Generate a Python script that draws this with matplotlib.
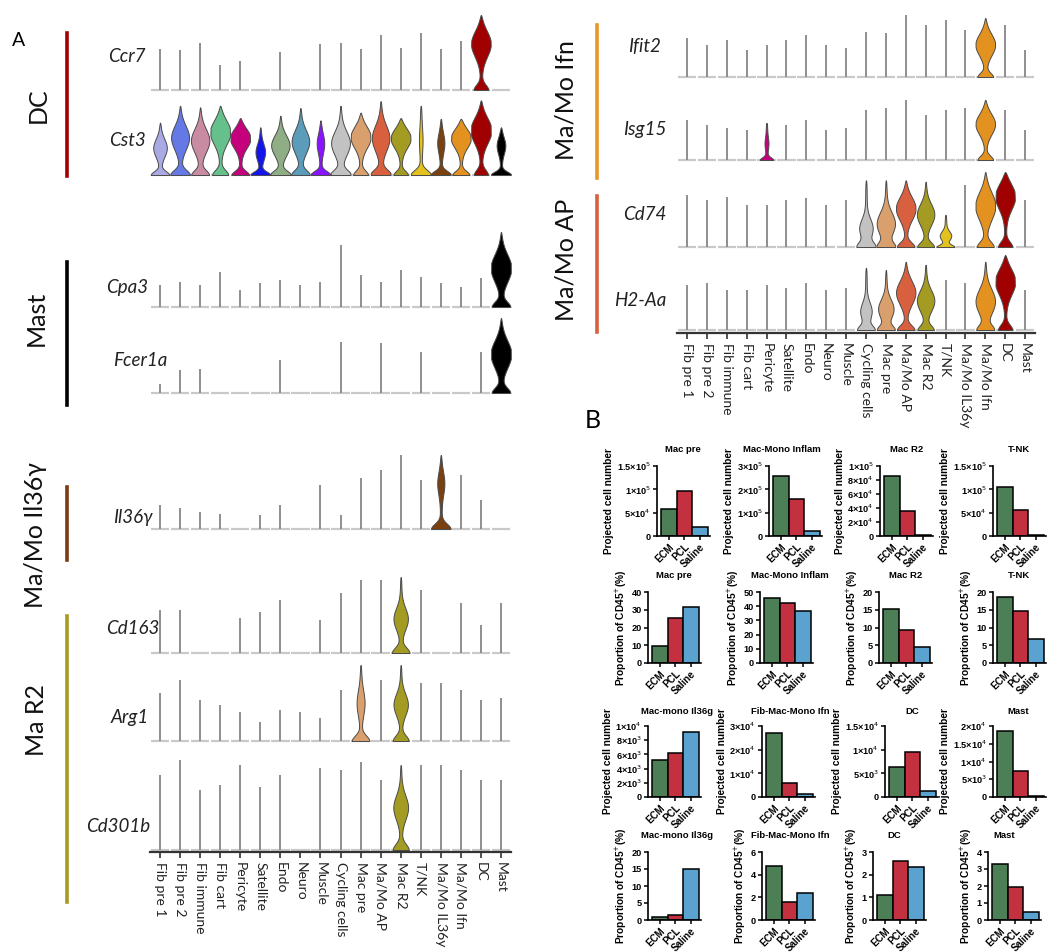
import numpy as np
import matplotlib
matplotlib.use("Agg")
import matplotlib.pyplot as plt

W, H = 1050, 952
fig = plt.figure(figsize=(10.5, 9.52), dpi=100)

AF = ['Lato', 'DejaVu Sans']
BF = ['Liberation Sans', 'DejaVu Sans']

clusters = ["Fib pre 1", "Fib pre 2", "Fib immune", "Fib cart", "Pericyte", "Satellite",
            "Endo", "Neuro", "Muscle", "Cycling cells", "Mac pre", "Ma/Mo AP", "Mac R2",
            "T/NK", "Ma/Mo IL36y", "Ma/Mo Ifn", "DC", "Mast"]
ccolors = ["#a9a9e3", "#6579e6", "#c98ba2", "#66c08c", "#c4007c", "#1414ee", "#8fae86",
           "#5a9cba", "#8a14ff", "#c2c2c2", "#d9a06e", "#d9603f", "#a39b22", "#e3c21f",
           "#7a4010", "#e3921f", "#a00000", "#000000"]

# ---------------- violin data (heights relative to row height) ----------------
ccr7_h = [0.55, 0.53, 0.63, 0.33, 0.39, 0, 0.51, 0, 0.61, 0.63, 0.55, 0.73, 0.56, 0.76, 0.55, 0.65, 1.0, 0]
ccr7_v = {16: (0.46, 0.62, 0.17, 0.33)}

cst3_h = [0.68, 0.90, 0.88, 0.90, 0.74, 0.62, 0.77, 0.87, 0.71, 0.90, 0.81, 0.96, 0.74, 0.90, 0.73, 0.73, 0.97, 0.62]
cst3_bw = [0.30, 0.41, 0.42, 0.48, 0.48, 0.20, 0.42, 0.40, 0.15, 0.43, 0.47, 0.40, 0.47, 0.05, 0.14, 0.47, 0.49, 0.18]
cst3_c = [0.52, 0.54, 0.51, 0.62, 0.65, 0.48, 0.50, 0.50, 0.58, 0.46, 0.61, 0.50, 0.65, 0.50, 0.57, 0.66, 0.60, 0.62]
cst3_base = [0.42, 0.45, 0.40, 0.36, 0.40, 0.46, 0.47, 0.42, 0.46, 0.47, 0.33, 0.48, 0.32, 0.47, 0.47, 0.39, 0.31, 0.47]

cpa3_h = [0.29, 0.33, 0.29, 0.47, 0.23, 0.32, 0.36, 0.29, 0.33, 0.83, 0.43, 0.33, 0.49, 0.40, 0.32, 0.27, 0.39, 1.0]
cpa3_v = {17: (0.48, 0.52, 0.18, 0.42)}

fcer1a_h = [0.12, 0.31, 0.32, 0, 0, 0, 0.44, 0, 0, 0.68, 0, 0.67, 0, 0.55, 0, 0, 0.55, 1.0]
fcer1a_v = {17: (0.48, 0.52, 0.18, 0.42)}

il36_h = [0.32, 0.28, 0.23, 0.20, 0, 0.19, 0.32, 0, 0.59, 0.19, 0.69, 0.80, 1.0, 0.66, 1.0, 0.73, 0.39, 0]
il36_v = {14: (0.14, 0.62, 0.15, 0.45)}

cd163_h = [0.57, 0.57, 0, 0, 0.46, 0.54, 0.70, 0, 0.43, 0.79, 0.96, 0.96, 1.0, 0.83, 0, 0.66, 0.37, 0.66]
cd163_v = {12: (0.32, 0.45, 0.14, 0.40)}

arg1_h = [0.63, 0.80, 0.54, 0.47, 0.38, 0.25, 0.41, 0.38, 0.30, 0.67, 1.0, 0.80, 1.0, 0.76, 0.76, 0.67, 0.54, 0.57]
arg1_v = {10: (0.16, 0.50, 0.16, 0.40), 12: (0.32, 0.48, 0.14, 0.36)}

cd301b_h = [0.88, 1.06, 0.71, 0.76, 1.0, 0.74, 0.88, 0, 0.96, 0.94, 1.04, 0.82, 1.0, 1.0, 1.0, 0.94, 0.82, 0.82]
cd301b_v = {12: (0.33, 0.50, 0.14, 0.36)}

ifit2_h = [0.66, 0.54, 0.63, 0.46, 0.54, 0.63, 0.71, 0.54, 0.49, 0.76, 0.75, 1.05, 0.88, 0.97, 0.80, 1.0, 0.88, 0.46]
ifit2_v = {15: (0.46, 0.55, 0.18, 0.35)}

isg15_h = [0.65, 0.56, 0.52, 0.48, 0.60, 0.56, 0.65, 0.48, 0.52, 0.81, 0.84, 0.97, 0.73, 0.81, 0.84, 0.97, 0.81, 0.48]
isg15_v = {4: (0.06, 0.45, 0.15, 0.30), 15: (0.46, 0.60, 0.17, 0.35)}

cd74_h = [0.69, 0.63, 0.67, 0.56, 0.56, 0.63, 0.65, 0.56, 0.63, 0.89, 0.89, 0.89, 0.87, 0.43, 0.83, 1.0, 1.0, 0.63]
cd74_v = {9: (0.30, 0.28, 0.14, 0.40), 10: (0.42, 0.35, 0.17, 0.38), 11: (0.46, 0.58, 0.17, 0.40),
          12: (0.40, 0.50, 0.16, 0.38), 13: (0.25, 0.35, 0.14, 0.40), 15: (0.47, 0.55, 0.18, 0.38),
          16: (0.48, 0.68, 0.17, 0.32)}

h2aa_h = [0.60, 0.63, 0.53, 0.53, 0.60, 0.56, 0.63, 0.53, 0.56, 0.83, 0.80, 0.91, 0.87, 0.67, 0.63, 0.91, 1.0, 0.53]
h2aa_v = {9: (0.25, 0.30, 0.14, 0.38), 10: (0.35, 0.35, 0.16, 0.38), 11: (0.45, 0.55, 0.17, 0.40),
          12: (0.40, 0.45, 0.16, 0.36), 15: (0.45, 0.42, 0.18, 0.38), 16: (0.48, 0.65, 0.17, 0.32)}

# ---------------- bar chart data ----------------
groups = ["ECM", "PCL", "Saline"]
gcolors = ["#4d7f57", "#c3303f", "#5aa2cf"]
titles_r1 = ["Mac pre", "Mac-Mono Inflam", "Mac R2", "T-NK"]
titles_r3 = ["Mac-mono Il36g", "Fib-Mac-Mono Ifn", "DC", "Mast"]
proj_r1 = [[5.8e4, 9.6e4, 1.9e4], [2.57e5, 1.59e5, 2.1e4], [8.6e4, 3.6e4, 2.0e3], [1.05e5, 5.6e4, 3.0e3]]
prop_r2 = [[9.5, 25.5, 31.5], [45.5, 42.0, 36.5], [15.2, 9.4, 4.5], [18.5, 14.6, 6.7]]
proj_r3 = [[5.2e3, 6.2e3, 9.2e3], [2.7e4, 6.0e3, 1.3e3], [6.3e3, 9.6e3, 1.3e3], [1.85e4, 7.3e3, 2.5e2]]
prop_r4 = [[0.8, 1.5, 15.0], [4.8, 1.6, 2.4], [1.1, 2.6, 2.35], [3.3, 1.95, 0.5]]
ticks_r1 = [[0, 5e4, 1e5, 1.5e5], [0, 1e5, 2e5, 3e5], [0, 2e4, 4e4, 6e4, 8e4, 1e5], [0, 5e4, 1e5, 1.5e5]]
ticks_r2 = [[0, 10, 20, 30, 40], [0, 10, 20, 30, 40, 50], [0, 5, 10, 15, 20], [0, 5, 10, 15, 20]]
ticks_r3 = [[0, 2e3, 4e3, 6e3, 8e3, 1e4], [0, 1e4, 2e4, 3e4], [0, 5e3, 1e4, 1.5e4], [0, 5e3, 1e4, 1.5e4, 2e4]]
ticks_r4 = [[0, 5, 10, 15, 20], [0, 2, 4, 6], [0, 1, 2, 3], [0, 1, 2, 3, 4]]


def add_ax(x0, y0, x1, y1):
    return fig.add_axes([x0 / W, 1 - y1 / H, (x1 - x0) / W, (y1 - y0) / H])


def violin(ax, x, h, bw, c, s, base, color):
    t = np.linspace(0, 1, 300)
    w = bw * np.exp(-0.5 * ((t - c) / s) ** 2) + base * np.exp(-0.5 * (t / 0.07) ** 2) + 0.04
    w = np.minimum(w, 0.49) * np.sqrt(np.clip(1 - t ** 8, 0, 1))
    ax.fill_betweenx(t * h, x - w, x + w, facecolor=color, edgecolor="#4a4a4a", lw=0.7,
                     clip_on=False, zorder=3)


def draw_row(ax, heights, vdict, x_axis=False, cst3=False):
    ax.set_xlim(-0.5, 17.5)
    for i, hh in enumerate(heights):
        ax.plot([i - 0.46, i + 0.46], [0, 0], color="#c9c9c9", lw=1.6, solid_capstyle="butt",
                zorder=1, clip_on=False)
        if cst3:
            violin(ax, i, hh, cst3_bw[i], cst3_c[i], 0.17, cst3_base[i], ccolors[i])
        elif i in vdict:
            bw, c, s, base = vdict[i]
            violin(ax, i, hh, bw, c, s, base, ccolors[i])
        elif hh > 0:
            ax.plot([i, i], [0, hh], color="#8e8e8e", lw=1.4, solid_capstyle="butt", zorder=2,
                    clip_on=False)
    for sp in ["top", "right", "left"]:
        ax.spines[sp].set_visible(False)
    ax.set_yticks([])
    if x_axis:
        ax.spines["bottom"].set_linewidth(1.6)
        ax.spines["bottom"].set_color("#333333")
        ax.set_xticks(range(18))
        ax.set_xticklabels(clusters, rotation=-90, fontsize=10, family=AF, color="#222222")
        ax.tick_params(axis="x", length=4, width=1.2, color="#333333", pad=3)
    else:
        ax.spines["bottom"].set_visible(False)
        ax.set_xticks([])
    ax.patch.set_alpha(0)


def row_axes(x0, x1, base_y, top_y, axis_y=None):
    if axis_y is None:
        ax = add_ax(x0, top_y, x1, base_y)
        ax.set_ylim(0, 1)
    else:
        ax = add_ax(x0, top_y, x1, axis_y)
        ax.set_ylim(-(axis_y - base_y) / (base_y - top_y), 1)
    return ax


LX0, LX1 = 150, 511
left_rows = [
    (ccr7_h, ccr7_v, 90, 15, "Ccr7", 127, 56, False),
    (cst3_h, {}, 175, 98, "Cst3", 127, 140, True),
    (cpa3_h, cpa3_v, 307, 232, "Cpa3", 127, 287, False),
    (fcer1a_h, fcer1a_v, 393, 318, "Fcer1a", 140, 360, False),
    (il36_h, il36_v, 529, 455, "Il36\u03b3", 133, 518, False),
    (cd163_h, cd163_v, 653, 577, "Cd163", 133, 628, False),
    (arg1_h, arg1_v, 741, 665, "Arg1", 130, 718, False),
    (cd301b_h, cd301b_v, 850, 765, "Cd301b", 118, 826, False),
]
for k, (hh, vd, by, ty, lab, lx, ly, c3) in enumerate(left_rows):
    last = k == len(left_rows) - 1
    ax = row_axes(LX0, LX1, by, ty, axis_y=852 if last else None)
    draw_row(ax, hh, vd, x_axis=last, cst3=c3)
    fig.text(lx / W, 1 - ly / H, lab, fontsize=13.5, style="italic", family=AF,
             ha="center", va="center", color="#222222")

RX0, RX1 = 677, 1035
right_rows = [
    (ifit2_h, ifit2_v, 77, 18, "Ifit2", 645, 47),
    (isg15_h, isg15_v, 160, 98, "Isg15", 645, 130),
    (cd74_h, cd74_v, 247, 172, "Cd74", 645, 215),
    (h2aa_h, h2aa_v, 330, 255, "H2-Aa", 640, 300),
]
for k, (hh, vd, by, ty, lab, lx, ly) in enumerate(right_rows):
    last = k == len(right_rows) - 1
    ax = row_axes(RX0, RX1, by, ty, axis_y=333 if last else None)
    draw_row(ax, hh, vd, x_axis=last)
    fig.text(lx / W, 1 - ly / H, lab, fontsize=13.5, style="italic", family=AF,
             ha="center", va="center", color="#222222")

groups_A = [("DC", 38, 105, 67, 33, 176, "#a00000"),
            ("Mast", 36, 318, 67, 262, 405, "#000000"),
            ("Ma/Mo Il36\u03b3", 36, 535, 67, 487, 560, "#7a3c10"),
            ("Ma R2", 36, 720, 67, 616, 902, "#a89a20"),
            ("Ma/Mo Ifn", 566, 100, 597, 25, 178, "#e8952a"),
            ("Ma/Mo AP", 566, 260, 597, 196, 332, "#d95f3e")]
for lab, tx_, ty_, bx, b0, b1, col in groups_A:
    fig.text(tx_ / W, 1 - ty_ / H, lab, fontsize=18, rotation=90, family=AF,
             ha="center", va="center", color="#111111")
    fig.add_artist(plt.Line2D([bx / W, bx / W], [1 - b0 / H, 1 - b1 / H], color=col, lw=2.6))

fig.text(12 / W, 1 - 40 / H, "A", fontsize=14, family=AF, ha="left", va="center")
fig.text(585 / W, 1 - 420 / H, "B", fontsize=18, family=AF, ha="left", va="center")


def sci(v):
    if v == 0:
        return "0"
    e = int(np.floor(np.log10(v) + 1e-9))
    m = v / 10 ** e
    ms = ("%g" % round(m, 2))
    return ms + "\u00d710$^{%d}$" % e


def bar_panel(spine_x, top_y, bot_y, vals, ticks, title, title_x, title_y, ylabel, use_sci):
    bwpx = 15.5
    x0 = spine_x
    x1 = spine_x + 4 + 3 * bwpx + 2
    ax = add_ax(x0, top_y, x1, bot_y)
    ax.bar(range(3), vals, width=1.0, color=gcolors, edgecolor="black", linewidth=1.1, zorder=2)
    ax.set_xlim(-0.5 - 4 / bwpx, 2.5 + 2 / bwpx)
    ax.set_ylim(0, ticks[-1])
    ax.set_yticks(ticks)
    ax.set_yticklabels([sci(t) if use_sci else "%g" % t for t in ticks], fontsize=6.6,
                       fontweight="bold", family=BF)
    ax.set_xticks(range(3))
    ax.set_xticklabels(groups, rotation=45, ha="right", rotation_mode="anchor", fontsize=7.0,
                       fontweight="bold", family=BF)
    for sp in ["top", "right"]:
        ax.spines[sp].set_visible(False)
    for sp in ["left", "bottom"]:
        ax.spines[sp].set_linewidth(1.2)
    ax.tick_params(length=3, width=1.1, pad=1.5)
    ax.tick_params(axis="x", pad=1)
    ax.set_ylabel(ylabel, fontsize=7.3, fontweight="bold", family=BF, labelpad=2)
    ax.patch.set_alpha(0)
    fig.text(title_x / W, 1 - title_y / H, title, fontsize=6.8, fontweight="bold", family=BF,
             ha="center", va="center")


spines = [[657, 769, 880, 993], [648, 760, 879, 993], [648, 762, 885, 993], [648, 762, 873, 988]]
rowsY = [(466, 536, 450), (592, 663, 576), (726, 797, 711), (852, 920, 836)]
tx = [[683, 782, 907, 1019], [674, 790, 906, 1019], [677, 790, 912, 1018], [677, 790, 894, 1004]]
prop_lab = "Proportion of CD45$^{+}$(%)"
for j in range(4):
    bar_panel(spines[0][j], rowsY[0][0], rowsY[0][1], proj_r1[j], ticks_r1[j], titles_r1[j],
              tx[0][j], rowsY[0][2], "Projected cell number", True)
    bar_panel(spines[1][j], rowsY[1][0], rowsY[1][1], prop_r2[j], ticks_r2[j], titles_r1[j],
              tx[1][j], rowsY[1][2], prop_lab, False)
    bar_panel(spines[2][j], rowsY[2][0], rowsY[2][1], proj_r3[j], ticks_r3[j], titles_r3[j],
              tx[2][j], rowsY[2][2], "Projected cell number", True)
    bar_panel(spines[3][j], rowsY[3][0], rowsY[3][1], prop_r4[j], ticks_r4[j], titles_r3[j],
              tx[3][j], rowsY[3][2], prop_lab, False)

fig.savefig("out.png", dpi=100)
